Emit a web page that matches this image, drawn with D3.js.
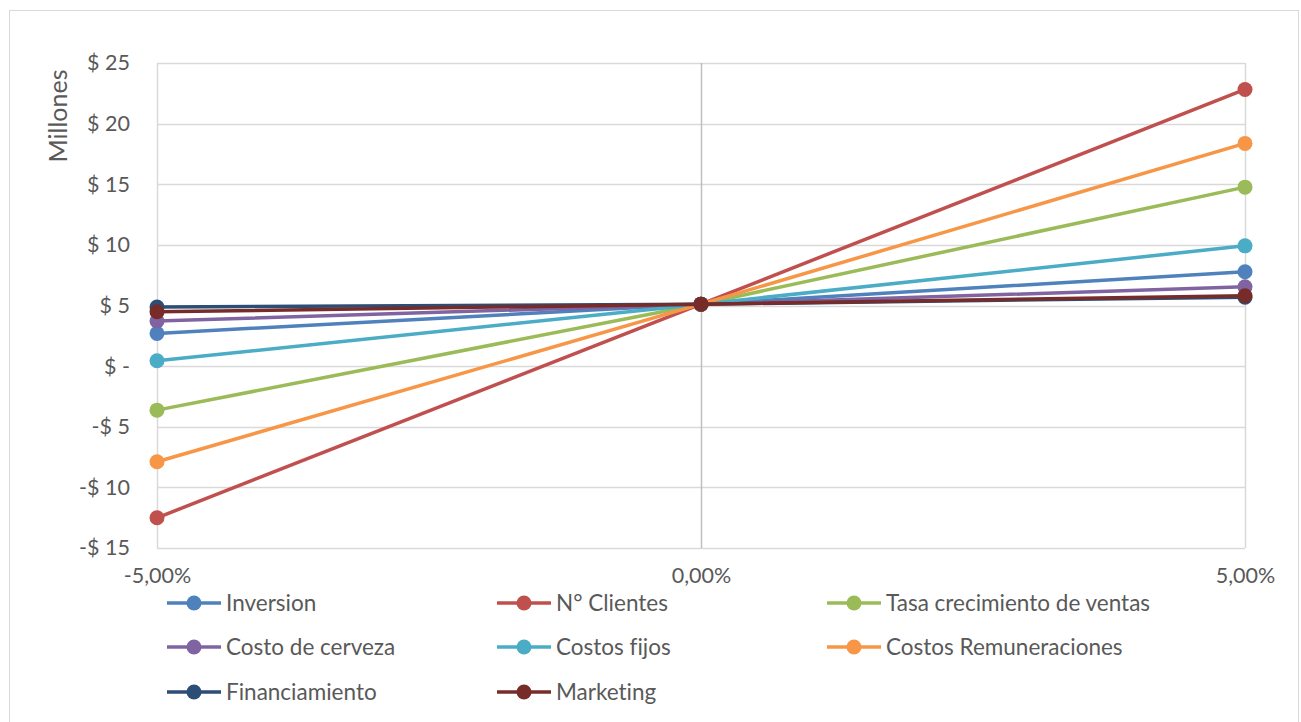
<!DOCTYPE html>
<html>
<head>
<meta charset="utf-8">
<script src="https://cdn.jsdelivr.net/npm/d3@7"></script>
<style>
  html, body { margin: 0; padding: 0; background: #fff; }
  svg { display: block; font-family: "Lato", "Open Sans", sans-serif; font-variant-ligatures: none; }
</style>
</head>
<body>
<svg id="chart" width="1301" height="722"></svg>
<script>
// Sensitivity scenarios (variation of each driver)
const categories = ["-5,00%", "0,00%", "5,00%"];

// Series names, in legend order
const seriesNames = [
  "Inversion", "N° Clientes", "Tasa crecimiento de ventas",
  "Costo de cerveza", "Costos fijos", "Costos Remuneraciones",
  "Financiamiento", "Marketing"
];

// Result in millions for each scenario
const inversion      = [2.70, 5.11, 7.78];
const nClientes      = [-12.51, 5.11, 22.82];
const tasaCrecimiento = [-3.63, 5.11, 14.76];
const costoCerveza   = [3.72, 5.11, 6.54];
const costosFijos    = [0.44, 5.11, 9.92];
const costosRemun    = [-7.89, 5.11, 18.37];
const financiamiento = [4.87, 5.11, 5.69];
const marketing      = [4.48, 5.11, 5.80];

const seriesValues = [inversion, nClientes, tasaCrecimiento, costoCerveza,
                      costosFijos, costosRemun, financiamiento, marketing];

const colors = ["#4f81bd", "#c0504d", "#9bbb59", "#8064a2",
                "#4bacc6", "#f79646", "#2c4d75", "#772c2a"];

const yTicks = [-15, -10, -5, 0, 5, 10, 15, 20, 25];
const yTitle = "Millones";

const svg = d3.select("#chart");
const plot = { left: 157, right: 1245, top: 63, bottom: 548 };
const textColor = "#595959";

// Outer chart border
svg.append("rect")
  .attr("x", 9.5).attr("y", 10.5)
  .attr("width", 1289).attr("height", 730)
  .attr("fill", "#fff").attr("stroke", "#d9d9d9").attr("stroke-width", 1);

const x = d3.scalePoint().domain(categories).range([plot.left, plot.right]);
const y = d3.scaleLinear().domain([-15, 25]).range([plot.bottom, plot.top]);

// Horizontal gridlines
svg.append("g").selectAll("line").data(yTicks).join("line")
  .attr("x1", plot.left).attr("x2", plot.right)
  .attr("y1", d => Math.round(y(d)) + 0.5).attr("y2", d => Math.round(y(d)) + 0.5)
  .attr("stroke", "#d9d9d9").attr("stroke-width", 1.5);

// Vertical gridlines at each category
svg.append("g").selectAll("line").data(categories).join("line")
  .attr("x1", d => Math.round(x(d)) + 0.5).attr("x2", d => Math.round(x(d)) + 0.5)
  .attr("y1", plot.top).attr("y2", plot.bottom)
  .attr("stroke", d => d === "0,00%" ? "#bfbfbf" : "#d9d9d9")
  .attr("stroke-width", 1.5);

// Y axis labels
const fmt = v => v === 0 ? "$ -" : (v < 0 ? "-$ " + Math.abs(v) : "$ " + v);
const yAxis = d3.axisLeft(y).tickValues(yTicks).tickFormat(fmt).tickSize(0).tickPadding(0);
const gy = svg.append("g").attr("transform", `translate(${plot.left - 27},0)`).call(yAxis);
gy.select(".domain").remove();
gy.selectAll("text").attr("font-size", 21.5).attr("fill", textColor)
  .attr("font-family", "Lato, 'Open Sans', sans-serif");

// X axis labels
const xAxis = d3.axisBottom(x).tickSize(0).tickPadding(0);
const gx = svg.append("g").attr("transform", `translate(0,${plot.bottom + 20})`).call(xAxis);
gx.select(".domain").remove();
gx.selectAll("text").attr("font-size", 21.5).attr("fill", textColor)
  .attr("font-family", "Lato, 'Open Sans', sans-serif");

// Y axis title
svg.append("text")
  .attr("transform", "translate(67,116) rotate(-90)")
  .attr("text-anchor", "middle")
  .attr("font-size", 25).attr("fill", textColor)
  .text(yTitle);

// Lines and markers
const line = d3.line().x((d, i) => x(categories[i])).y(d => y(d));
seriesValues.forEach((vals, s) => {
  const g = svg.append("g");
  g.append("path").datum(vals)
    .attr("d", line).attr("fill", "none")
    .attr("stroke", colors[s]).attr("stroke-width", 3.5)
    .attr("stroke-linejoin", "round");
  g.selectAll("circle").data(vals).join("circle")
    .attr("cx", (d, i) => x(categories[i])).attr("cy", d => y(d))
    .attr("r", 7.5).attr("fill", colors[s]);
});

// Legend: three columns
const legCols = [167, 497, 827];
const legRows = [603, 647, 692];
const leg = svg.append("g").selectAll("g").data(seriesNames).join("g")
  .attr("transform", (d, i) => `translate(${legCols[i % 3]},${legRows[Math.floor(i / 3)]})`);
leg.append("line").attr("x1", 0).attr("x2", 54).attr("y1", 0).attr("y2", 0)
  .attr("stroke", (d, i) => colors[i]).attr("stroke-width", 3.5);
leg.append("circle").attr("cx", 27).attr("cy", 0).attr("r", 7.5)
  .attr("fill", (d, i) => colors[i]);
leg.append("text").attr("x", 59).attr("y", 0).attr("dy", "0.35em")
  .attr("font-size", 22.5).attr("fill", textColor).text(d => d);
</script>
</body>
</html>
